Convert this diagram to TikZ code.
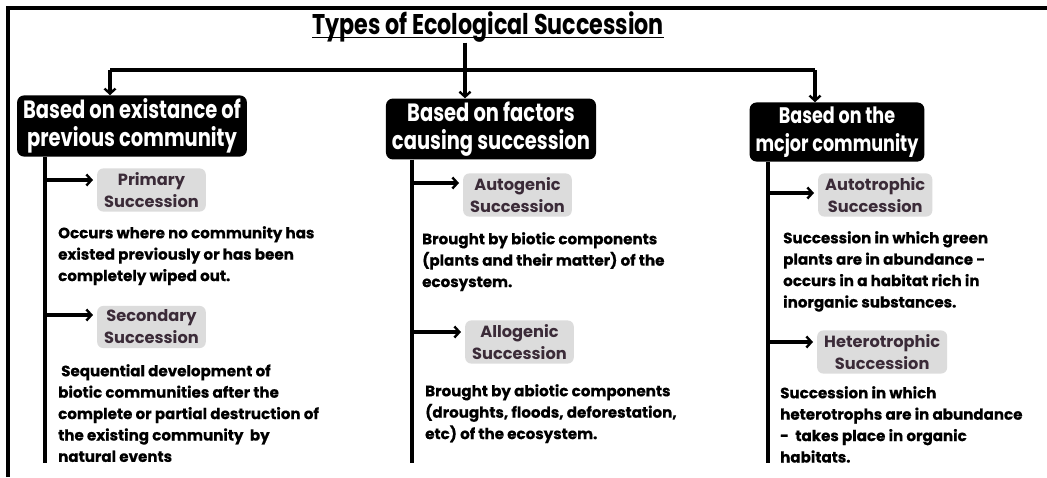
\documentclass[tikz,border=0pt]{standalone}
\usepackage{fontspec}
\setmainfont{Poppins}
\newfontfamily\hfont{Poppins}[FakeStretch=0.78]
\newfontfamily\dfont{Poppins}[BoldFeatures={FakeBold=0.5}]
\usetikzlibrary{arrows.meta}
\definecolor{greybox}{HTML}{DCDCDC}
\definecolor{graytext}{HTML}{3B2B38}
\begin{document}
\begin{tikzpicture}[x=1pt,y=-1pt,
 hdr/.style={fill=black,text=white,rounded corners=7pt,font=\hfont\bfseries\fontsize{25}{28.5}\selectfont,align=center,inner xsep=6pt,inner ysep=3pt},
 sub/.style={fill=greybox,text=graytext,rounded corners=6pt,font=\bfseries\fontsize{16.2}{22}\selectfont,align=center,inner xsep=7pt,inner ysep=4pt,anchor=west},
 desc/.style={anchor=north west,align=left,inner sep=0pt,font=\dfont\bfseries\fontsize{15.1}{21.4}\selectfont},
 ln/.style={line width=3.3pt},
 arr/.style={line width=3.1pt,shorten >=4pt,-{Straight Barb[length=5pt,width=11pt,line width=2.4pt]}}]
\useasboundingbox (0,0) rectangle (1047,477);
\fill[white] (0,0) rectangle (1047,477);
\draw[line width=4pt] (8,477) -- (8,8) -- (1047,8);

\node[font=\hfont\bfseries\fontsize{28.5}{32}\selectfont,inner sep=0pt] (title) at (488,27) {Types of Ecological Succession};
\draw[line width=1.8pt] ([yshift=-3pt]title.base west) -- ([yshift=-3pt]title.base east);

\node[hdr] (b1) at (132,126) {Based on existance of\\previous community};
\node[hdr] (b2) at (491,129) {Based on factors\\causing succession};
\node[hdr,font=\hfont\bfseries\fontsize{22.5}{28.5}\selectfont,inner ysep=4pt] (b3) at (837,132) {Based on the\\mcjor community};

\coordinate (j1) at (110,70);
\coordinate (j2) at (465,70);
\coordinate (j3) at (815,70);
\draw[ln] (j1) -- (j3);
\draw[arr,shorten >=0pt] (title.south -| j2) -- (j2 |- b2.north);
\draw[arr,shorten >=0pt] (j1) -- (j1 |- b1.north);
\draw[arr,shorten >=0pt] (j3) -- (j3 |- b3.north);

\coordinate (v1) at (45,463);
\coordinate (v2) at (412,463);
\coordinate (v3) at (768,463);
\draw[ln] (v1 |- b1.south) -- (v1);
\draw[ln] (v2 |- b2.south) -- (v2);
\draw[ln] (v3 |- b3.south) -- (v3);

\node[sub] (p1) at (97,190) {Primary\\Succession};
\node[sub] (p2) at (97,327) {Secondary\\Succession};
\node[sub] (m1) at (463,195) {Autogenic\\Succession};
\node[sub] (m2) at (465,342) {Allogenic\\Succession};
\node[sub] (r1) at (818,195) {Autotrophic\\Succession};
\node[sub] (r2) at (817,352) {Heterotrophic\\Succession};

\draw[arr] ([yshift=10pt]v1 |- p1.west) -- ([yshift=10pt]p1.west);
\draw[arr] ([yshift=12pt]v1 |- p2.west) -- ([yshift=12pt]p2.west);
\draw[arr] ([yshift=12pt]v2 |- m1.west) -- ([yshift=12pt]m1.west);
\draw[arr] ([yshift=10pt]v2 |- m2.west) -- ([yshift=10pt]m2.west);
\draw[arr] ([yshift=2pt]v3 |- r1.west) -- ([yshift=2pt]r1.west);
\draw[arr] ([yshift=10pt]v3 |- r2.west) -- ([yshift=10pt]r2.west);

\node[desc] (dp1) at (58,226) {Occurs where no community has\\existed previously or has been\\completely wiped out.};
\node[desc] (dp2) at (58,364) {\hspace{3pt}Sequential development of\\biotic communities after the\\complete or partial destruction of\\the existing community\ \ by\\natural events};
\node[desc] (dm1) at (422,232) {Brought by biotic components\\(plants and their matter) of the\\ecosystem.};
\node[desc] (dm2) at (425,384) {Brought by abiotic components\\(droughts, floods, deforestation,\\etc) of the ecosystem.};
\node[desc] (dr1) at (783,231) {Succession in which green\\plants are in abundance -\\occurs in a habitat rich in\\inorganic substances.};
\node[desc] (dr2) at (780,386) {Succession in which\\heterotrophs are in abundance\\-\ \ takes place in organic\\habitats.};
\end{tikzpicture}
\end{document}
